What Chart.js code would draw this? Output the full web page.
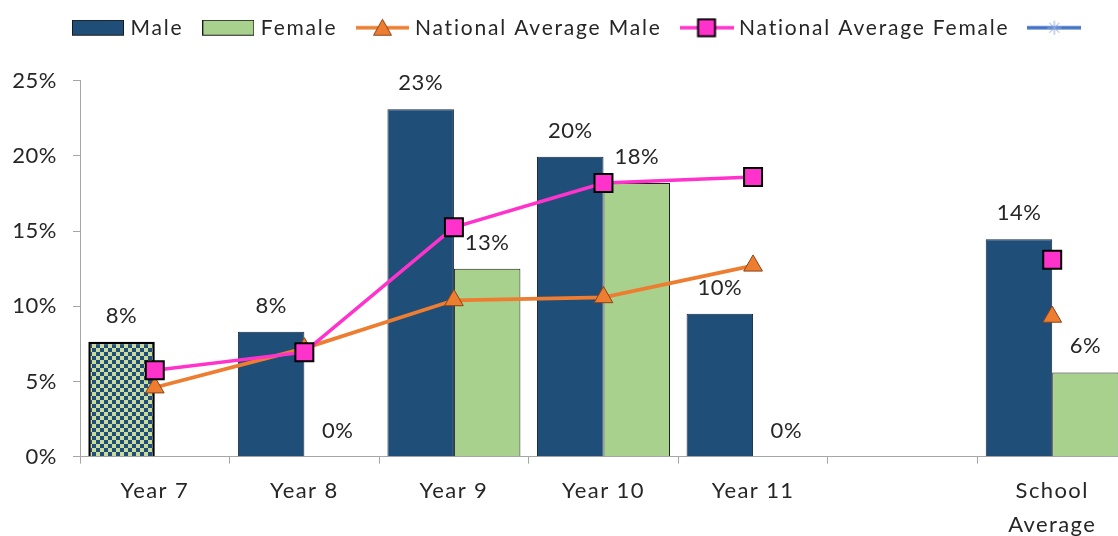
<!DOCTYPE html>
<html><head><meta charset="utf-8">
<script src="https://cdn.jsdelivr.net/npm/chart.js@4.4.1/dist/chart.umd.min.js"></script>
<style>
html,body{margin:0;padding:0;background:#fff;overflow:hidden;width:1118px;height:536px}
#wrap{position:absolute;left:0;top:0;width:1127px;height:536px}
</style>
</head><body>
<div id="wrap"><canvas id="c" width="1127" height="536"></canvas></div>
<script>
// ---- data ----
const categories = ['Year 7', 'Year 8', 'Year 9', 'Year 10', 'Year 11', '', ['School', 'Average']];
const maleValues = [7.65, 8.3, 23.1, 19.95, 9.5, null, 14.45];
const femaleValues = [null, 0, 12.5, 18.2, 0, null, 5.6];
const nationalMale = [4.6, 7.2, 10.4, 10.6, 12.7, null, 9.3];
const nationalFemale = [5.75, 6.95, 15.25, 18.2, 18.6, null, 13.1];
const blankSeries = [null, null, null, null, null, null, null];
const yTicks = [0, 5, 10, 15, 20, 25];
const legendLabels = ['Male', 'Female', 'National Average Male', 'National Average Female', ''];

// ---- styles ----
const NAVY = '#1F4E79', GREEN = '#A9D18E', ORANGE = '#ED7D31', PINK = '#FF33CC', BLUE = '#4472C4';
const TEXT = '#262626', AXIS = '#a6a6a6';
const FONT = 'Lato, "Open Sans", sans-serif';

function makeCanvas(w, h, draw) {
  const c = document.createElement('canvas');
  c.width = w; c.height = h;
  draw(c.getContext('2d'));
  return c;
}
const checkTile = makeCanvas(8, 8, g => {
  g.fillStyle = '#CADB9E'; g.fillRect(0, 0, 8, 8);
  g.fillStyle = NAVY; g.fillRect(0, 0, 4, 4); g.fillRect(4, 4, 4, 4);
});
const mainCtx = document.getElementById('c').getContext('2d');
const checkPattern = mainCtx.createPattern(checkTile, 'repeat');

function boxIcon(fill) {
  return makeCanvas(52, 18, g => {
    g.fillStyle = fill; g.fillRect(0.5, 0.5, 51, 15);
    g.strokeStyle = '#1a1a1a'; g.lineWidth = 1; g.strokeRect(0.5, 0.5, 51, 15);
  });
}
function lineIcon(w, color, marker) {
  return makeCanvas(w, 22, g => {
    const cy = 10;
    g.strokeStyle = color; g.lineWidth = 3.5; g.lineCap = 'butt';
    g.beginPath(); g.moveTo(0, cy); g.lineTo(w, cy); g.stroke();
    const cx = w / 2;
    if (marker === 'triangle') {
      g.fillStyle = ORANGE; g.strokeStyle = '#8a4316'; g.lineWidth = 1;
      g.beginPath(); g.moveTo(cx, cy - 8.5); g.lineTo(cx + 9, cy + 7.5); g.lineTo(cx - 9, cy + 7.5); g.closePath();
      g.fill(); g.stroke();
    } else if (marker === 'square') {
      g.fillStyle = PINK; g.strokeStyle = '#000'; g.lineWidth = 2;
      g.fillRect(cx - 8.5, cy - 8.5, 17, 17); g.strokeRect(cx - 8.5, cy - 8.5, 17, 17);
    } else if (marker === 'star') {
      g.strokeStyle = '#8fa9e0'; g.lineWidth = 1;
      g.beginPath();
      g.moveTo(cx - 7, cy); g.lineTo(cx + 7, cy);
      g.moveTo(cx, cy - 7); g.lineTo(cx, cy + 7);
      g.moveTo(cx - 5, cy - 5); g.lineTo(cx + 5, cy + 5);
      g.moveTo(cx + 5, cy - 5); g.lineTo(cx - 5, cy + 5);
      g.stroke();
    }
  });
}
const legendIcons = [boxIcon(NAVY), boxIcon(GREEN), lineIcon(53, ORANGE, 'triangle'), lineIcon(54, PINK, 'square'), lineIcon(54, BLUE, 'star')];

// ---- plugins ----
const barLabels = {
  id: 'barLabels',
  afterDatasetsDraw(chart) {
    const ctx = chart.ctx;
    ctx.save();
    ctx.font = '22px ' + FONT;
    ctx.letterSpacing = '0.5px';
    ctx.fillStyle = TEXT; ctx.textAlign = 'center'; ctx.textBaseline = 'alphabetic';
    [0, 1].forEach(di => {
      const meta = chart.getDatasetMeta(di);
      const data = chart.data.datasets[di].data;
      meta.data.forEach((el, i) => {
        const v = data[i];
        if (v === null || v === undefined) return;
        ctx.fillText(Math.round(v) + '%', el.x, el.y - 19);
      });
    });
    ctx.restore();
  }
};
function withSpacing(obj, name, sp) {
  const orig = obj[name];
  obj[name] = function (...args) {
    const c = this.ctx;
    const prev = c.letterSpacing;
    c.letterSpacing = sp;
    try { return orig.apply(this, args); } finally { c.letterSpacing = prev; }
  };
}
const layoutTweaks = {
  id: 'layoutTweaks',
  beforeInit(chart) {
    const lg = chart.legend;
    const fit = lg.fit;
    lg.fit = function () { fit.call(this); this.height = 80.7; };
  },
  afterLayout(chart) {
    const lg = chart.legend;
    lg.left = 53; lg.right = 1400; lg.top = -4.8; lg.bottom = 80;
  },
  beforeDraw(chart) {
    if (chart.$spacingPatched) return;
    chart.$spacingPatched = true;
    withSpacing(chart.legend, 'draw', '1.8px');
    withSpacing(chart.scales.x, 'drawLabels', '1.4px');
    withSpacing(chart.scales.y, 'drawLabels', '0.5px');
  }
};

function build() {
  new Chart(mainCtx, {
    type: 'bar',
    data: {
      labels: categories,
      datasets: [
        { type: 'bar', label: legendLabels[0], data: maleValues,
          backgroundColor: maleValues.map((v, i) => i === 0 ? checkPattern : NAVY),
          borderColor: maleValues.map((v, i) => i === 0 ? '#000' : '#16283a'),
          borderWidth: maleValues.map((v, i) => i === 0 ? 2.5 : 1),
          categoryPercentage: 0.889, barPercentage: 1, order: 3 },
        { type: 'bar', label: legendLabels[1], data: femaleValues, backgroundColor: GREEN,
          borderColor: '#1e1e1e', borderWidth: 1,
          categoryPercentage: 0.889, barPercentage: 1, order: 4 },
        { type: 'line', label: legendLabels[2], data: nationalMale, borderColor: ORANGE, backgroundColor: ORANGE,
          borderWidth: 3.8, tension: 0, pointStyle: 'triangle', pointRadius: 10.8, pointHoverRadius: 10.8,
          pointBackgroundColor: ORANGE, pointBorderColor: '#8a4316', pointBorderWidth: 1, order: 1 },
        { type: 'line', label: legendLabels[3], data: nationalFemale, borderColor: PINK, backgroundColor: PINK,
          borderWidth: 3.5, tension: 0, pointStyle: 'rect', pointRadius: 12.7, pointHoverRadius: 12.7,
          pointBackgroundColor: PINK, pointBorderColor: '#000', pointBorderWidth: 2, order: 0 },
        { type: 'line', label: legendLabels[4], data: blankSeries, borderColor: BLUE, order: 2 }
      ]
    },
    options: {
      responsive: false,
      animation: false,
      events: [],
      layout: { padding: 0, autoPadding: false },
      plugins: {
        tooltip: { enabled: false },
        legend: {
          display: true, position: 'top', align: 'start',
          labels: {
            usePointStyle: true, pointStyleWidth: 44, padding: 23, color: TEXT,
            font: { family: FONT, size: 21 },
            generateLabels: () => legendLabels.map((t, i) => ({
              text: t, pointStyle: legendIcons[i], fontColor: TEXT, lineWidth: 0,
              hidden: false, datasetIndex: i
            }))
          }
        }
      },
      scales: {
        x: {
          type: 'category', offset: true,
          grid: { display: true, drawOnChartArea: false, drawTicks: true, tickLength: 7, color: AXIS, offset: true },
          border: { display: true, color: AXIS, width: 1 },
          ticks: { color: TEXT, font: { family: FONT, size: 22, lineHeight: 1.55 }, padding: 10, maxRotation: 0, autoSkip: false },
          afterFit(scale) { scale.height = 79.3; scale.paddingLeft = 0; scale.paddingRight = 0; }
        },
        y: {
          min: 0, max: 25,
          afterBuildTicks(scale) { scale.ticks = yTicks.map(v => ({ value: v })); },
          grid: { display: true, drawOnChartArea: false, drawTicks: true, tickLength: 7, color: AXIS },
          border: { display: true, color: AXIS, width: 1 },
          ticks: { color: TEXT, font: { family: FONT, size: 22 }, padding: 16, callback: v => v + '%' },
          afterFit(scale) { scale.width = 80; }
        }
      }
    },
    plugins: [barLabels, layoutTweaks]
  });
}
if (document.fonts && document.fonts.load) {
  document.fonts.load('22px Lato').then(build, build);
} else { build(); }
</script>
</body></html>
